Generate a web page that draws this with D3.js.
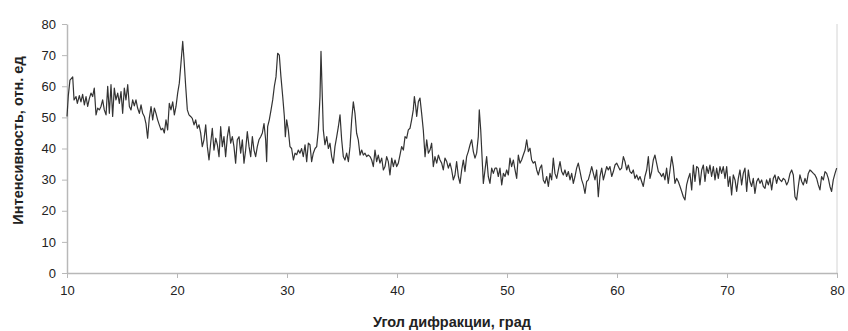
<!DOCTYPE html>
<html>
<head>
<meta charset="utf-8">
<script src="https://d3js.org/d3.v7.min.js"></script>
<style>
  body { margin: 0; background: #fff; }
  svg { font-family: Arial, "Liberation Sans", sans-serif; }
  .axis .domain, .axis line { stroke: #b8b8b8; }
  .axis text { fill: #222; font-size: 13px; }
  .title { font-weight: bold; font-size: 14.5px; fill: #222; }
</style>
</head>
<body>
<svg id="chart" width="848" height="331"></svg>
<script>
// diffraction angle, deg
const angle = [
  10.00,10.12,10.27,10.52,10.64,10.82,10.94,11.12,11.27,11.42,11.58,11.73,11.88,12.03,12.18,12.33,12.48,12.64,12.79,12.94,
  13.09,13.24,13.39,13.55,13.70,13.85,14.00,14.15,14.30,14.45,14.61,14.76,14.91,15.06,15.21,15.36,15.52,15.67,15.82,15.97,
  16.12,16.27,16.42,16.58,16.73,16.88,17.03,17.18,17.33,17.48,17.64,17.79,17.94,18.09,18.24,18.39,18.55,18.70,18.85,19.00,
  19.15,19.30,19.45,19.61,19.76,19.91,20.06,20.21,20.36,20.52,20.64,20.79,20.94,21.09,21.24,21.39,21.55,21.70,21.85,22.00,
  22.15,22.30,22.45,22.61,22.76,22.91,23.06,23.21,23.36,23.52,23.67,23.82,23.97,24.12,24.27,24.42,24.58,24.73,24.88,25.03,
  25.18,25.33,25.48,25.64,25.79,25.94,26.09,26.24,26.39,26.55,26.70,26.85,27.00,27.15,27.30,27.45,27.61,27.76,27.91,28.06,
  28.15,28.24,28.39,28.55,28.70,28.85,29.00,29.15,29.30,29.45,29.61,29.76,29.85,29.97,30.12,30.27,
  30.42,30.58,30.73,30.88,31.03,31.18,31.33,31.48,31.64,31.79,31.94,32.09,32.24,32.39,32.55,32.70,32.85,33.00,33.09,33.21,
  33.30,33.45,33.61,33.76,33.91,34.06,34.21,34.36,34.52,34.67,34.82,34.97,35.12,35.27,35.42,35.58,35.73,35.88,36.03,36.18,
  36.33,36.48,36.64,36.79,36.94,37.09,37.24,37.39,37.55,37.70,37.85,38.00,38.15,38.30,38.45,38.61,38.76,38.91,39.06,39.21,
  39.36,39.52,39.67,39.82,39.97,40.12,40.27,40.42,40.58,40.73,40.88,41.03,41.18,41.33,41.48,41.58,41.70,41.79,41.94,42.09,
  42.24,42.39,42.55,42.70,42.85,43.00,43.15,43.30,43.45,43.61,43.76,43.91,
  44.06,44.21,44.36,44.52,44.67,44.82,44.97,45.12,45.27,45.42,45.58,45.73,45.88,46.03,46.18,46.33,46.48,46.64,46.79,46.94,
  47.09,47.24,47.39,47.48,47.61,47.73,47.85,48.00,48.15,48.30,48.45,48.61,48.76,48.91,49.06,49.21,49.36,49.52,49.67,49.82,
  49.97,50.12,50.27,50.42,50.58,50.73,50.88,51.03,51.18,51.33,51.48,51.64,51.79,51.94,52.09,52.24,52.39,52.55,52.70,52.85,
  53.00,53.15,53.30,53.45,53.61,53.76,53.91,54.06,54.21,54.36,54.52,54.67,54.82,54.97,55.12,55.27,55.42,55.58,55.73,55.88,
  56.03,56.18,56.33,56.48,56.64,56.79,56.94,57.09,57.24,57.39,57.55,57.70,57.85,58.00,58.15,58.30,58.45,58.61,58.76,58.91,
  59.06,59.21,59.36,59.52,59.67,59.82,59.97,60.12,60.27,60.42,60.58,60.73,60.88,61.03,61.18,
  61.33,61.48,61.63,61.79,61.94,62.09,62.24,62.39,62.54,62.70,62.85,63.00,63.15,63.30,63.45,63.60,63.76,63.91,64.06,64.21,
  64.36,64.51,64.66,64.82,64.97,65.12,65.27,65.42,65.57,65.73,65.88,66.03,66.18,66.33,66.48,66.63,66.79,66.94,67.09,67.24,
  67.39,67.54,67.70,67.85,68.00,68.15,68.30,68.45,68.60,68.76,68.91,69.06,69.21,69.36,69.51,69.66,69.82,69.97,70.12,70.27,
  70.42,70.57,70.73,70.88,71.03,71.18,71.33,71.48,71.63,71.79,71.94,72.09,72.24,72.39,72.54,72.70,72.85,73.00,73.15,73.30,
  73.45,73.60,73.76,73.91,74.06,74.21,74.36,74.51,74.66,74.82,74.97,75.12,75.27,75.42,75.57,75.73,75.88,76.03,76.18,76.33,
  76.48,76.63,76.79,76.94,77.09,77.24,77.39,77.54,77.70,77.85,78.00,78.15,78.30,78.45,78.60,78.76,78.91,79.06,79.21,79.36,
  79.51,79.66,79.82,79.97
];

// intensity, rel. units
const intensity = [
  50.3,57.0,62.0,63.0,55.6,56.7,54.5,57.0,55.0,57.4,54.0,56.7,53.5,56.0,57.8,56.7,59.4,50.8,53.0,52.4,
  53.5,55.6,52.4,50.8,60.0,51.3,60.5,50.3,59.4,55.6,57.8,54.5,58.3,51.3,59.4,55.6,60.5,53.5,52.4,55.6,
  53.7,55.6,53.0,51.3,54.0,51.3,50.3,48.0,43.3,49.7,53.5,49.2,53.0,51.3,49.2,47.6,46.0,46.5,45.0,49.2,
  46.0,54.5,52.4,55.0,50.8,53.5,57.8,61.0,67.4,74.4,68.5,60.0,52.4,50.8,50.3,49.7,47.6,49.2,46.5,47.6,
  45.0,40.6,42.8,47.6,40.6,36.3,41.7,46.5,39.5,43.3,41.2,37.4,47.0,40.6,43.8,37.4,43.8,47.0,41.7,43.8,
  40.6,35.3,42.8,43.8,38.5,42.8,35.3,39.5,45.4,40.6,37.4,43.8,39.5,37.4,40.6,42.8,43.8,45.0,48.0,42.8,
  35.8,47.0,49.2,52.4,55.6,60.0,63.0,70.6,70.0,63.0,56.7,50.3,43.8,49.2,46.0,40.6,
  40.0,36.3,38.5,38.0,39.5,38.5,40.0,37.4,41.2,35.8,41.7,41.2,35.8,38.5,40.0,40.6,46.0,56.7,71.2,56.7,
  46.0,41.2,43.8,40.0,41.7,37.4,35.3,40.6,43.8,47.0,50.8,42.8,37.4,36.3,38.5,35.8,40.6,49.2,55.0,51.3,
  44.9,42.8,37.9,39.5,37.9,38.5,37.4,37.9,37.4,36.3,34.2,39.5,35.8,37.9,35.3,36.9,33.1,34.2,37.4,35.8,
  31.5,36.9,34.2,36.3,34.2,35.3,37.9,40.6,39.5,43.8,43.3,46.0,46.5,49.2,52.4,56.7,53.5,50.3,55.0,56.2,
  51.3,46.0,37.4,42.8,38.5,39.5,41.7,34.2,37.4,35.3,37.9,36.3,
  35.3,33.1,36.9,35.8,33.7,35.3,33.1,29.9,31.5,35.8,31.0,28.8,33.1,36.3,32.6,37.4,39.0,41.2,42.8,39.0,
  36.9,38.5,43.8,52.4,46.0,37.4,28.8,33.1,37.4,31.0,28.8,33.7,32.0,33.7,33.7,31.0,33.7,28.3,32.0,31.0,
  33.1,31.5,36.9,34.2,36.3,33.1,30.4,37.9,35.3,36.3,37.9,39.5,42.8,39.0,40.1,36.3,35.3,35.8,33.1,31.5,
  33.7,34.7,29.9,28.8,31.0,27.8,32.0,29.9,36.9,32.0,30.4,33.1,35.8,32.6,31.5,33.1,31.0,32.6,29.9,32.0,
  28.8,31.0,33.7,35.3,32.6,29.9,28.3,25.6,29.4,29.9,32.0,34.2,32.0,29.9,33.1,24.5,31.0,33.7,29.9,32.0,
  34.2,33.1,34.2,31.0,32.6,34.7,35.3,34.2,33.1,33.7,37.4,35.8,33.1,34.7,32.6,
  32.0,33.1,30.4,31.5,29.9,31.0,29.4,27.8,31.0,33.1,37.4,30.4,32.6,36.3,37.9,35.3,32.6,32.0,31.0,32.0,
  29.9,33.7,28.8,33.1,37.4,34.2,28.8,30.4,29.4,27.8,26.2,24.5,23.5,28.3,30.4,32.0,26.7,34.7,29.4,34.2,
  33.7,28.3,33.1,34.7,29.4,34.2,32.0,34.7,31.0,34.2,29.9,33.7,30.4,34.2,32.0,34.2,30.4,34.2,27.8,31.0,
  25.1,31.5,29.9,26.2,30.4,33.1,28.3,32.0,33.7,26.2,33.1,29.4,27.8,30.4,25.6,29.4,30.4,28.8,29.9,27.8,
  27.2,29.9,28.3,30.4,26.7,30.4,31.5,28.8,31.0,29.9,29.4,30.4,29.9,28.3,29.4,32.0,33.1,31.5,24.5,23.5,
  27.8,31.5,29.4,28.3,30.4,28.8,32.0,33.1,32.6,32.0,31.5,30.4,28.3,26.7,31.0,29.9,32.6,32.0,30.4,27.8,
  26.2,29.9,32.0,33.7
];

const xTicks = [10, 20, 30, 40, 50, 60, 70, 80];
const yTicks = [0, 10, 20, 30, 40, 50, 60, 70, 80];

const svg = d3.select("#chart");
const margin = {top: 24, right: 11, bottom: 58, left: 67};
const width = +svg.attr("width");
const height = +svg.attr("height");
const plotW = width - margin.left - margin.right;
const plotH = height - margin.top - margin.bottom;

const x = d3.scaleLinear().domain([10, 80]).range([0, plotW]);
const y = d3.scaleLinear().domain([0, 80]).range([plotH, 0]);

const g = svg.append("g").attr("transform", `translate(${margin.left},${margin.top})`);

// right border of plot area
g.append("line")
  .attr("x1", plotW).attr("x2", plotW)
  .attr("y1", 0).attr("y2", plotH)
  .attr("stroke", "#d4d4d4");

g.append("g")
  .attr("class", "axis")
  .attr("transform", `translate(0,${plotH})`)
  .call(d3.axisBottom(x).tickValues(xTicks).tickSize(5).tickSizeOuter(0).tickPadding(8))
  .call(a => a.select(".domain").attr("stroke-width", 1.5));

g.append("g")
  .attr("class", "axis")
  .call(d3.axisLeft(y).tickValues(yTicks).tickSize(5).tickSizeOuter(0).tickPadding(6))
  .call(a => a.select(".domain").attr("stroke-width", 1.5));

const pts = angle.map((a, i) => [a, intensity[i]]);
const line = d3.line().x(d => x(d[0])).y(d => y(d[1]));

g.append("path")
  .datum(pts)
  .attr("fill", "none")
  .attr("stroke", "#333")
  .attr("stroke-width", 1.2)
  .attr("stroke-linejoin", "round")
  .attr("d", line);

svg.append("text")
  .attr("class", "title")
  .attr("text-anchor", "middle")
  .attr("transform", `translate(23,${margin.top + plotH / 2 - 8}) rotate(-90)`)
  .text("Интенсивность, отн. ед");

svg.append("text")
  .attr("class", "title")
  .attr("text-anchor", "middle")
  .attr("x", margin.left + plotW / 2)
  .attr("y", 327)
  .text("Угол дифракции, град");
</script>
</body>
</html>
